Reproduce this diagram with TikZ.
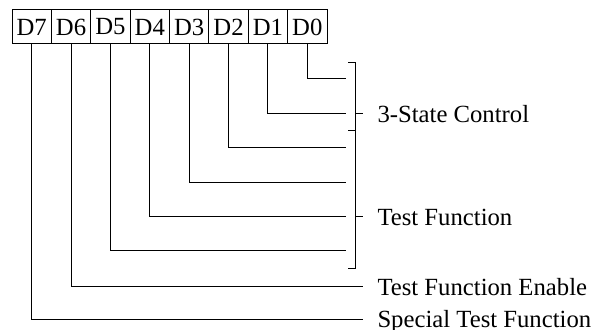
\documentclass[tikz,border=0pt]{standalone}
\usepackage{fontspec}
\setmainfont{Liberation Serif}
\usetikzlibrary{positioning}
\begin{document}
\begin{tikzpicture}[x=0.5pt, y=-0.5pt, line width=0.5pt,
    every node/.style={font=\fontsize{12.35}{14}\selectfont},
    bitbox/.style={draw, minimum width=19.69pt, minimum height=17pt, inner sep=0pt, outer sep=0pt},
    lbl/.style={anchor=west, inner sep=0pt, text height=8.2pt, text depth=0pt}]
  \useasboundingbox (0,0) rectangle (592,330);
  % register bits
  \foreach \b [count=\i from 0] in {7,6,5,4,3,2,1,0}
    \node[bitbox] (d\b) at ({31.7+39.375*\i},27) {D\b};
  % wire ends
  \foreach \b/\y in {0/79,1/114,2/148,3/183,4/217,5/251}
    \coordinate (e\b) at (346,\y);
  \coordinate (e6) at (363,287);
  \coordinate (e7) at (363,319);
  \foreach \b in {0,...,7}
    \draw (d\b.south) |- (e\b);
  % brackets
  \draw (348,63) -- (355,63) -- (355,269) -- (348,269);
  \draw (348,131) -- (355,131);
  \draw (355,114) -- (363,114);
  \draw (355,217) -- (363,217);
  % labels
  \node[lbl] (sc) at (377,114) {3-State Control};
  \node[lbl] (tf) at (377,217) {Test Function};
  \node[lbl] (tfe) at (377,287) {Test Function Enable};
  \node[lbl] (stf) at (377,319) {Special Test Function};
\end{tikzpicture}
\end{document}
